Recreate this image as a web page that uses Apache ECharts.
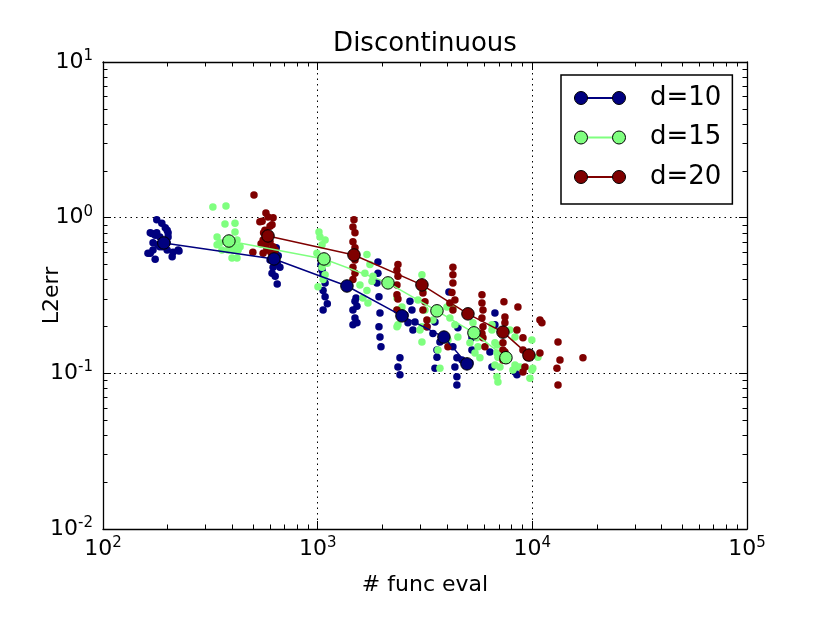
<!DOCTYPE html>
<html>
<head>
<meta charset="utf-8">
<script src="https://cdn.jsdelivr.net/npm/echarts@6/dist/echarts.min.js"></script>
<style>
  html, body { margin: 0; padding: 0; background: #fff; }
  #chart { width: 830px; height: 623px; }
</style>
</head>
<body>
<div id="chart"></div>
<script>
// axis ranges
const xMin = 100, xMax = 100000;
const yMin = 0.01, yMax = 10;

// minor tick positions (2..9 x each decade)
const xMinorTicks = [200, 300, 400, 500, 600, 700, 800, 900,
  2000, 3000, 4000, 5000, 6000, 7000, 8000, 9000,
  20000, 30000, 40000, 50000, 60000, 70000, 80000, 90000];
const yMinorTicks = [0.02, 0.03, 0.04, 0.05, 0.06, 0.07, 0.08, 0.09,
  0.2, 0.3, 0.4, 0.5, 0.6, 0.7, 0.8, 0.9,
  2, 3, 4, 5, 6, 7, 8, 9];

const seriesNames = ['d=10', 'd=15', 'd=20'];
const colors = ['#00007f', '#7fff7f', '#7f0000'];

// mean curves [func eval, L2err]
const d10Mean = [[192, 0.688], [626, 0.543], [1369, 0.364], [2470, 0.234], [3874, 0.171], [4960, 0.115]];
const d15Mean = [[386, 0.708], [1070, 0.543], [2126, 0.381], [3595, 0.252], [5346, 0.182], [7534, 0.126]];
const d20Mean = [[587, 0.763], [1476, 0.576], [3060, 0.370], [5012, 0.241], [7297, 0.184], [9640, 0.131]];

// individual runs
const d10Points = [
  [178, 0.97], [188, 0.92], [199, 0.83], [169, 0.79], [178, 0.80], [171, 0.69], [180, 0.67], [188, 0.72],
  [201, 0.75], [199, 0.69], [166, 0.59], [171, 0.62], [175, 0.54], [210, 0.56], [226, 0.61], [212, 0.60],
  [190, 0.65], [184, 0.75], [166, 0.80], [175, 0.77], [162, 0.59], [201, 0.80], [195, 0.86], [199, 0.62],
  [184, 0.65], [224, 0.62],
  [634, 0.59], [648, 0.51], [620, 0.48], [613, 0.44], [634, 0.42], [648, 0.375], [667, 0.48], [600, 0.535],
  [641, 0.64], [627, 0.55], [655, 0.57],
  [1048, 0.46], [1060, 0.43], [1083, 0.38], [1060, 0.34], [1083, 0.31], [1109, 0.28], [1060, 0.255], [1036, 0.50],
  [1492, 0.29], [1524, 0.27], [1460, 0.255], [1492, 0.227], [1460, 0.205], [1524, 0.211], [1509, 0.305],
  [1909, 0.52], [1909, 0.44], [1889, 0.38], [1930, 0.31], [1951, 0.244], [1930, 0.199], [1951, 0.171], [1972, 0.148],
  [2691, 0.29], [2749, 0.255], [2634, 0.211], [2779, 0.19], [2840, 0.214], [2417, 0.126], [2366, 0.11], [2417, 0.098],
  [2550, 0.237],
  [3519, 0.214], [3228, 0.199], [3444, 0.18], [3712, 0.159], [3595, 0.127], [3519, 0.108], [4088, 0.333], [3595, 0.141],
  [4266, 0.148], [4452, 0.126], [4358, 0.11], [4452, 0.095], [4452, 0.084], [4700, 0.122], [5233, 0.141], [5233, 0.169],
  [5120, 0.117], [4500, 0.196],
  [6695, 0.244], [6695, 0.205], [6345, 0.137], [6485, 0.11], [8300, 0.102], [8478, 0.098]
];
const d15Points = [
  [325, 1.17], [374, 1.19], [370, 0.91], [412, 0.92], [340, 0.75], [340, 0.67], [358, 0.62], [412, 0.81],
  [421, 0.72], [404, 0.62], [399, 0.55], [421, 0.55], [378, 0.69], [435, 0.65], [350, 0.69], [383, 0.62],
  [426, 0.62], [412, 0.65],
  [1025, 0.75], [1083, 0.72], [992, 0.59], [1109, 0.51], [1048, 0.48], [1083, 0.43], [1060, 0.40], [1003, 0.36],
  [1048, 0.67], [1014, 0.81],
  [1696, 0.58], [1752, 0.50], [1660, 0.44], [1790, 0.39], [1696, 0.34], [1625, 0.305], [1715, 0.283], [1810, 0.42],
  [1574, 0.37],
  [2341, 0.305], [2470, 0.267], [2341, 0.255], [2417, 0.23], [2366, 0.205], [2341, 0.199],
  [3060, 0.43], [2996, 0.38], [3093, 0.34], [2933, 0.296], [3162, 0.255], [3060, 0.199], [2996, 0.19], [3060, 0.159],
  [4001, 0.267], [4130, 0.227], [4358, 0.205], [4500, 0.171], [4044, 0.164], [4266, 0.263], [3633, 0.141], [3712, 0.108],
  [3444, 0.22],
  [5290, 0.211], [5520, 0.169], [5580, 0.148], [5405, 0.135], [5700, 0.126], [5120, 0.157],
  [6485, 0.205], [6485, 0.19], [6841, 0.152], [6914, 0.127], [7066, 0.11], [6841, 0.095], [6914, 0.088], [6695, 0.157],
  [6841, 0.135], [6695, 0.113],
  [7453, 0.122], [7865, 0.19], [8300, 0.171], [8300, 0.113], [8478, 0.11], [8120, 0.105], [8755, 0.11],
  [9947, 0.164], [10050, 0.108], [9745, 0.093], [10620, 0.127], [9947, 0.105]
];
const d20Points = [
  [505, 1.40], [574, 1.07], [587, 1.01], [538, 0.94], [613, 0.90], [568, 0.83], [557, 0.72], [600, 0.70],
  [620, 0.65], [580, 0.62], [499, 0.60], [557, 0.59], [613, 0.58], [634, 0.62], [551, 0.95], [620, 1.0],
  [560, 0.80], [590, 0.78], [600, 0.88], [575, 0.66], [605, 0.60], [545, 0.68],
  [1476, 0.97], [1460, 0.87], [1492, 0.80], [1460, 0.70], [1492, 0.64], [1492, 0.535], [1460, 0.48], [1492, 0.44],
  [1460, 0.40],
  [2366, 0.50], [2341, 0.46], [2366, 0.42], [2341, 0.37], [2341, 0.32], [2366, 0.30], [2341, 0.255],
  [3093, 0.37], [3093, 0.328], [3162, 0.288], [3093, 0.255], [3228, 0.22], [3228, 0.199],
  [4266, 0.48], [4266, 0.43], [4266, 0.38], [4222, 0.33], [4130, 0.283], [4266, 0.255], [4044, 0.148], [4358, 0.296],
  [5012, 0.113],
  [5825, 0.32], [5825, 0.283], [5890, 0.255], [5825, 0.227], [5890, 0.199], [5825, 0.18], [5890, 0.169], [6015, 0.148],
  [7374, 0.288], [7453, 0.23], [7453, 0.211], [7297, 0.157], [7297, 0.141], [7453, 0.137], [7297, 0.122],
  [8567, 0.267], [8478, 0.19], [9043, 0.169], [9043, 0.141], [9438, 0.127], [9240, 0.11], [9043, 0.102],
  [10850, 0.22], [11080, 0.211], [10850, 0.135],
  [13170, 0.159], [13450, 0.122], [13020, 0.108], [13170, 0.084],
  [17210, 0.126]
];

const FONT = 'DejaVu Sans';

function powLabel(v) {
  const e = Math.round(Math.log10(v));
  return '{b|10}{s|' + e + '}';
}
const powRich = {
  b: { fontSize: 22, fontFamily: FONT, color: '#000' },
  s: { fontSize: 15, fontFamily: FONT, color: '#000', padding: [0, 0, 12, 0] }
};

function logAxis(min, max, pos, show) {
  return {
    type: 'log',
    logBase: 10,
    min: min,
    max: max,
    position: pos,
    splitNumber: 3,
    axisLine: { show: true, onZero: false, lineStyle: { color: '#000', width: 1.3 } },
    axisTick: { show: true, inside: true, length: 8, lineStyle: { color: '#000', width: 1 } },
    axisLabel: show ? {
      formatter: powLabel,
      rich: powRich,
      margin: pos === 'left' ? 10 : 7
    } : { show: false },
    splitLine: show ? { show: true, lineStyle: { color: '#000', width: 1, type: [1.5, 4] } } : { show: false },
    minorTick: { show: false }
  };
}

// overlay axis on the decade exponent, used only to draw the 2..9 minor ticks
function minorAxis(min, max, pos, values) {
  return {
    type: 'value',
    min: Math.log10(min),
    max: Math.log10(max),
    position: pos,
    axisLine: { show: false, onZero: false },
    axisLabel: { show: false },
    splitLine: { show: false },
    axisTick: {
      show: true,
      inside: true,
      length: 4.5,
      customValues: values.map(v => Math.log10(v)),
      lineStyle: { color: '#000', width: 1 }
    }
  };
}

const pointSets = [d10Points, d15Points, d20Points];
const meanSets = [d10Mean, d15Mean, d20Mean];

const series = [];
for (let i = 0; i < 3; i++) {
  series.push({
    type: 'scatter',
    name: seriesNames[i] + ' runs',
    data: pointSets[i],
    symbol: 'circle',
    symbolSize: 7.5,
    itemStyle: { color: colors[i], opacity: 1 },
    silent: true
  });
  series.push({
    type: 'line',
    name: seriesNames[i],
    data: meanSets[i],
    symbol: 'circle',
    symbolSize: 12.5,
    showAllSymbol: true,
    lineStyle: { color: colors[i], width: 1.5 },
    itemStyle: { color: colors[i], borderColor: '#000', borderWidth: 1 },
    silent: true
  });
}

const legendBase = {
  data: seriesNames,
  orient: 'vertical',
  left: 561,
  top: 75,
  itemWidth: 51,
  itemGap: 9.5,
  padding: [8, 11, 12, 13],
  selectedMode: false,
  textStyle: { fontSize: 26, fontFamily: FONT, lineHeight: 30, padding: [0, 0, 0, 20] }
};

const chart = echarts.init(document.getElementById('chart'), null, { renderer: 'canvas' });
chart.setOption({
  animation: false,
  backgroundColor: '#fff',
  title: {
    text: 'Discontinuous',
    left: 425,
    textAlign: 'center',
    top: 31,
    padding: 0,
    textStyle: { fontSize: 26, fontWeight: 'normal', fontFamily: FONT, color: '#000' }
  },
  grid: { left: 103, right: 83, top: 62, bottom: 94 },
  xAxis: [
    Object.assign(logAxis(xMin, xMax, 'bottom', true), {
      name: '# func eval',
      nameLocation: 'middle',
      nameGap: 45,
      nameMoveOverlap: false,
      nameTextStyle: { fontSize: 22, fontFamily: FONT, color: '#000' }
    }),
    logAxis(xMin, xMax, 'top', false),
    minorAxis(xMin, xMax, 'bottom', xMinorTicks),
    minorAxis(xMin, xMax, 'top', xMinorTicks)
  ],
  yAxis: [
    Object.assign(logAxis(yMin, yMax, 'left', true), {
      name: 'L2err',
      nameLocation: 'middle',
      nameGap: 40,
      nameMoveOverlap: false,
      nameTextStyle: { fontSize: 22, fontFamily: FONT, color: '#000' }
    }),
    logAxis(yMin, yMax, 'right', false),
    minorAxis(yMin, yMax, 'left', yMinorTicks),
    minorAxis(yMin, yMax, 'right', yMinorTicks)
  ],
  legend: [
    Object.assign({}, legendBase, {
      icon: 'rect',
      itemHeight: 2,
      z: 20,
      backgroundColor: '#fff',
      borderColor: '#000',
      borderWidth: 1.5,
      itemStyle: { borderWidth: 0 },
      textStyle: Object.assign({}, legendBase.textStyle, { color: '#000' })
    }),
    Object.assign({}, legendBase, {
      icon: 'path://M0,6.5A6.5,6.5 0 1,1 13,6.5A6.5,6.5 0 1,1 0,6.5ZM38,6.5A6.5,6.5 0 1,1 51,6.5A6.5,6.5 0 1,1 38,6.5Z',
      itemHeight: 13,
      z: 21,
      itemStyle: { borderColor: '#000', borderWidth: 1 },
      textStyle: Object.assign({}, legendBase.textStyle, { color: 'rgba(0,0,0,0)' })
    })
  ],
  series: series
});
</script>
</body>
</html>
